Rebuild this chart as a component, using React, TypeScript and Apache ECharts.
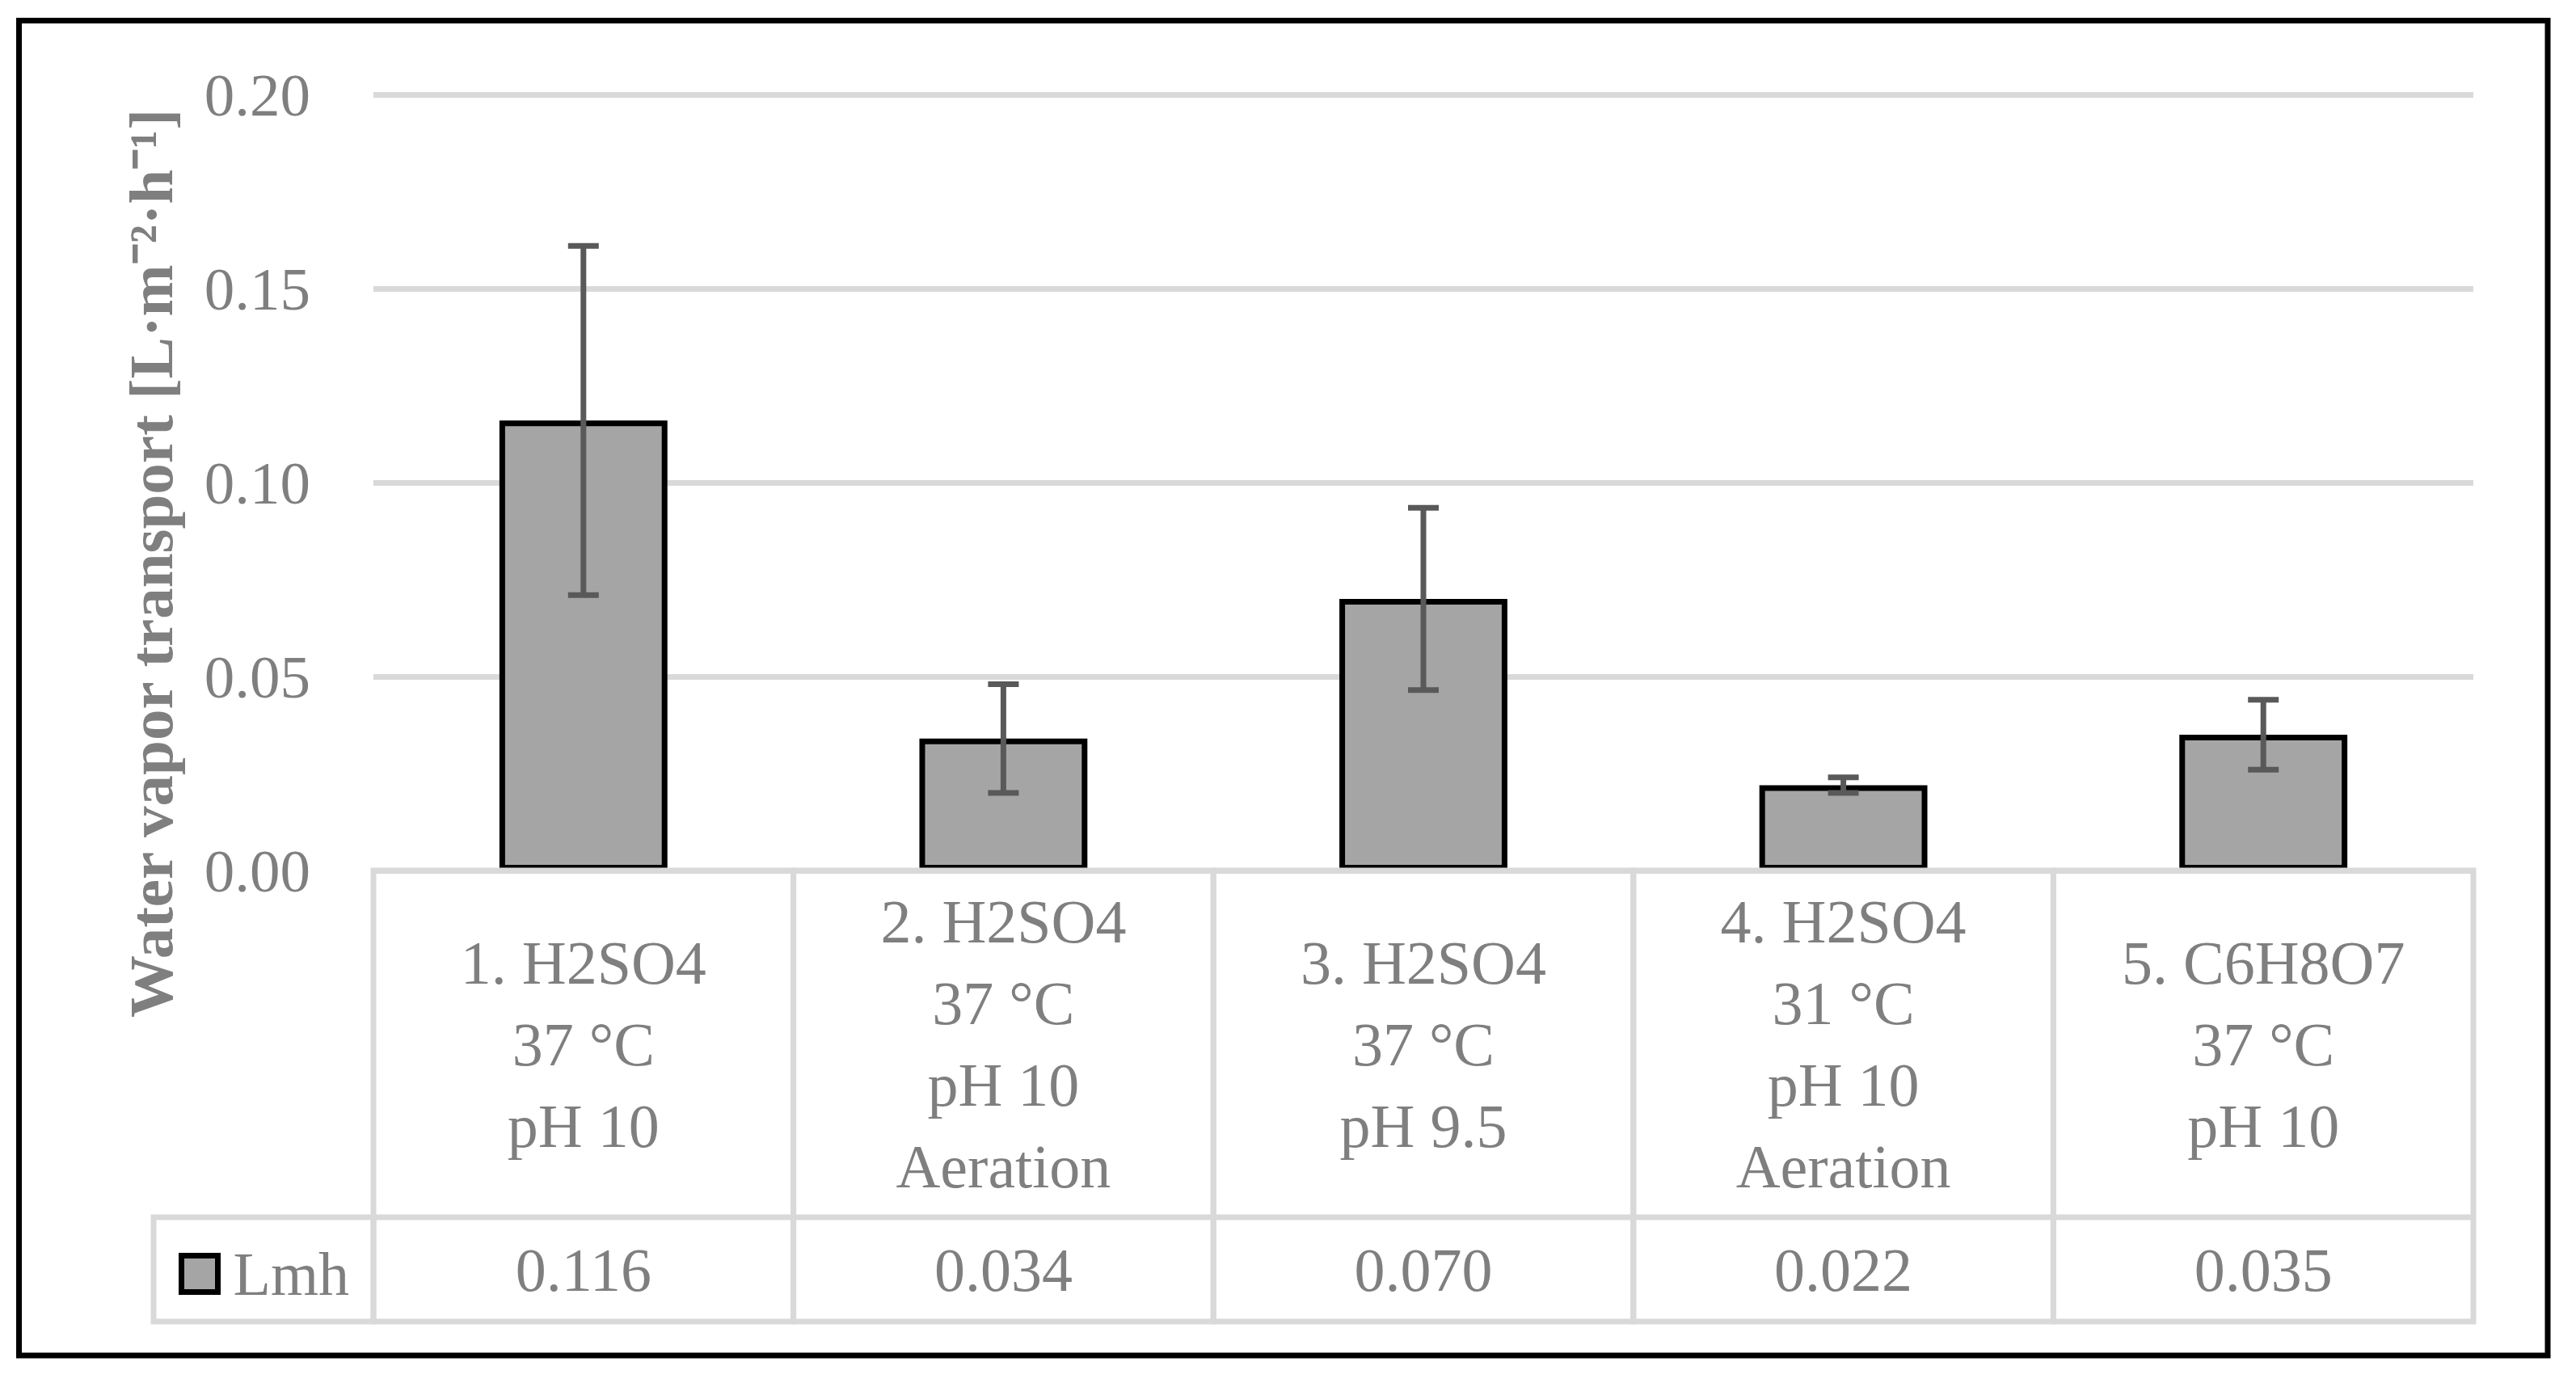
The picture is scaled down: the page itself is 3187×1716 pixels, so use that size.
import React, { useEffect, useRef } from 'react';
import * as echarts from 'echarts';

// ---- data ----
const categories = [
  '1. H2SO4\n37 °C\npH 10',
  '2. H2SO4\n37 °C\npH 10\nAeration',
  '3. H2SO4\n37 °C\npH 9.5',
  '4. H2SO4\n31 °C\npH 10\nAeration',
  '5. C6H8O7\n37 °C\npH 10',
];
const lmh = [0.116, 0.034, 0.07, 0.022, 0.035];
const lmhError = [0.045, 0.014, 0.0235, 0.002, 0.009];
const yTicks = [0, 0.05, 0.1, 0.15, 0.2];
const seriesName = 'Lmh';
const yTitle = 'Water vapor transport [L·m⁻²·h⁻¹]';

// ---- style ----
const FONT = '"Liberation Serif", "Times New Roman", serif';
const TEXT_GRAY = '#7F7F7F';
const LINE_GRAY = '#D9D9D9';
const BAR_FILL = '#A5A5A5';
const ERR_COLOR = '#595959';
const W = 3187;
const H = 1716;
const PLOT_LEFT = 462;
const PLOT_RIGHT = 3060;
const PLOT_TOP = 117;
const PLOT_BOTTOM = 1077;
const TABLE_BOTTOM = 1635;
const VALUE_ROW_H = 129;
const LEGEND_CELL_W = 272;
const FS = 76;

export default function App() {
  const ref = useRef<HTMLDivElement>(null);

  useEffect(() => {
    if (!ref.current) return;
    const chart = echarts.init(ref.current, undefined, { renderer: 'svg' });

    const errData = lmh.map((v, i) => [i, v - lmhError[i], v + lmhError[i]]);
    const tableData = categories.map((_, i) => [i, 0]);

    const option: any = {
      animation: false,
      backgroundColor: '#ffffff',
      grid: [
        {
          left: PLOT_LEFT,
          width: PLOT_RIGHT - PLOT_LEFT,
          top: PLOT_TOP,
          height: PLOT_BOTTOM - PLOT_TOP,
          containLabel: false,
        },
        {
          left: PLOT_LEFT,
          width: PLOT_RIGHT - PLOT_LEFT,
          top: PLOT_BOTTOM,
          height: TABLE_BOTTOM - PLOT_BOTTOM,
          containLabel: false,
        },
      ],
      xAxis: [
        {
          type: 'category',
          gridIndex: 0,
          data: categories,
          axisLine: { show: false },
          axisTick: { show: false },
          axisLabel: { show: false },
        },
        {
          type: 'category',
          gridIndex: 1,
          data: categories,
          show: false,
        },
      ],
      yAxis: [
        {
          type: 'value',
          gridIndex: 0,
          min: yTicks[0],
          max: yTicks[yTicks.length - 1],
          interval: yTicks[1] - yTicks[0],
          axisLine: { show: false },
          axisTick: { show: false },
          axisLabel: {
            formatter: (v: number) => v.toFixed(2),
            color: TEXT_GRAY,
            fontSize: 75,
            fontFamily: FONT,
            margin: 78,
          },
          splitLine: { show: true, lineStyle: { color: LINE_GRAY, width: 7 } },
        },
        {
          type: 'value',
          gridIndex: 1,
          min: 0,
          max: 1,
          show: false,
          splitLine: { show: false },
        },
      ],
      legend: {
        data: [seriesName],
        left: 216,
        top: 1533,
        icon: 'rect',
        itemWidth: 45,
        itemHeight: 45,
        itemStyle: { color: BAR_FILL, borderColor: '#000000', borderWidth: 7 },
        textStyle: {
          color: TEXT_GRAY,
          fontSize: FS,
          fontFamily: FONT,
          lineHeight: 74,
          padding: [0, 0, 0, 14],
        },
        selectedMode: false,
      },
      graphic: [
        {
          type: 'rect',
          shape: { x: 23.5, y: 25.5, width: 3128.5, height: 1651.5 },
          style: { fill: 'none', stroke: '#000000', lineWidth: 7 },
          z: 10,
        },
        {
          type: 'text',
          x: 187,
          y: 697,
          rotation: Math.PI / 2,
          style: {
            text: yTitle,
            align: 'center',
            verticalAlign: 'middle',
            fill: TEXT_GRAY,
            fontSize: 77,
            fontWeight: 'bold',
            fontFamily: FONT,
          },
        },
      ],
      series: [
        {
          name: seriesName,
          type: 'bar',
          xAxisIndex: 0,
          yAxisIndex: 0,
          data: lmh,
          barWidth: '40%',
          itemStyle: { color: BAR_FILL, borderColor: '#000000', borderWidth: 7 },
          z: 2,
        },
        {
          name: 'error',
          type: 'custom',
          xAxisIndex: 0,
          yAxisIndex: 0,
          data: errData,
          encode: { x: 0, y: [1, 2] },
          z: 4,
          renderItem: (params: any, api: any) => {
            const i = api.value(0);
            const lo = api.coord([i, api.value(1)]);
            const hi = api.coord([i, api.value(2)]);
            const half = 19;
            const st = { stroke: ERR_COLOR, lineWidth: 7, lineCap: 'butt' };
            return {
              type: 'group',
              children: [
                { type: 'line', shape: { x1: lo[0], y1: lo[1], x2: hi[0], y2: hi[1] }, style: st },
                { type: 'line', shape: { x1: lo[0] - half, y1: lo[1], x2: lo[0] + half, y2: lo[1] }, style: st },
                { type: 'line', shape: { x1: hi[0] - half, y1: hi[1], x2: hi[0] + half, y2: hi[1] }, style: st },
              ],
            };
          },
        },
        {
          name: 'table',
          type: 'custom',
          xAxisIndex: 1,
          yAxisIndex: 1,
          data: tableData,
          encode: { x: 0, y: 1 },
          z: 5,
          renderItem: (params: any, api: any) => {
            const i = api.value(0);
            const cs = params.coordSys;
            const c = api.coord([i, 0]);
            const bw = api.size([1, 0])[0];
            const x0 = c[0] - bw / 2;
            const top = cs.y;
            const bottom = cs.y + cs.height;
            const mid = bottom - VALUE_ROW_H;
            const ls = { fill: 'none', stroke: LINE_GRAY, lineWidth: 7 };
            const ts = {
              fill: TEXT_GRAY,
              fontSize: FS,
              fontFamily: FONT,
              align: 'center',
              verticalAlign: 'middle',
            };
            const children: any[] = [
              { type: 'rect', shape: { x: x0, y: top, width: bw, height: bottom - top }, style: ls },
              { type: 'line', shape: { x1: x0, y1: mid, x2: x0 + bw, y2: mid }, style: ls },
              {
                type: 'text',
                style: { ...ts, text: categories[i], x: c[0], y: (top + mid) / 2, lineHeight: 101 },
              },
              {
                type: 'text',
                style: { ...ts, text: lmh[i].toFixed(3), x: c[0], y: (mid + bottom) / 2 },
              },
            ];
            if (i === 0) {
              children.unshift({
                type: 'rect',
                shape: { x: x0 - LEGEND_CELL_W, y: mid, width: LEGEND_CELL_W, height: VALUE_ROW_H },
                style: ls,
              });
            }
            return { type: 'group', children };
          },
        },
      ],
    };

    chart.setOption(option);
    return () => chart.dispose();
  }, []);

  return (
    <div
      ref={ref}
      style={{ position: 'absolute', left: 0, top: 0, width: W, height: H, background: '#fff' }}
    />
  );
}
